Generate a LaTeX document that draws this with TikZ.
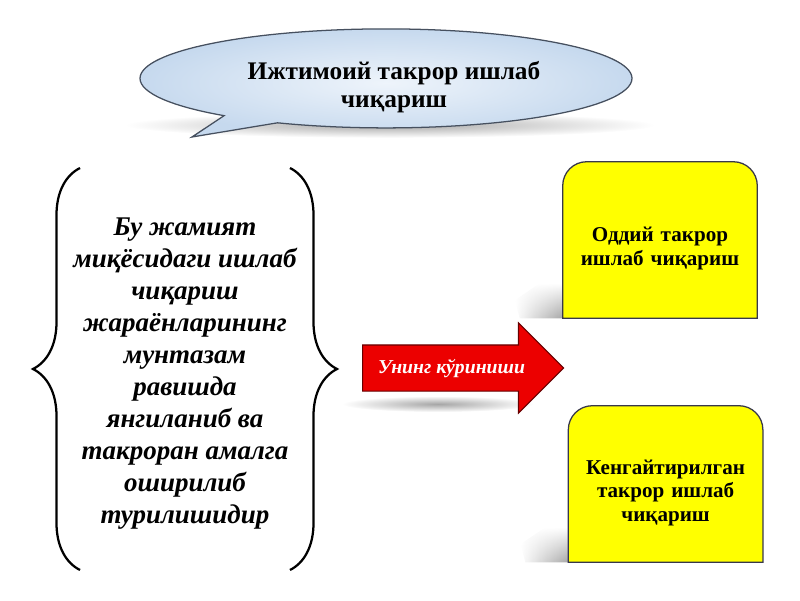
\documentclass[tikz,border=0pt]{standalone}
\usepackage{fontspec}
\setmainfont{Liberation Serif}
\usetikzlibrary{shapes,shapes.callouts,shapes.arrows,decorations.pathreplacing,backgrounds,positioning,calc,fadings}

\definecolor{bubblein}{RGB}{238,244,251}
\definecolor{bubbleout}{RGB}{198,217,238}
\definecolor{bubbleline}{RGB}{70,80,95}
\definecolor{boxyellow}{RGB}{255,255,0}
\definecolor{boxline}{RGB}{55,55,75}
\definecolor{arrowred}{RGB}{236,0,0}

\begin{document}
\begin{tikzpicture}[
    bubble/.style={ellipse callout, draw=bubbleline, line width=0.9pt, inner color=bubblein, outer color=bubbleout, minimum width=12.3cm, minimum height=2.475cm},
    title/.style={align=center, font=\fontsize{18}{20.5}\selectfont\bfseries},
    process/.style={inner sep=0pt, minimum width=5.25cm, minimum height=10.05cm, align=center, font=\fontsize{19.2}{22.8}\selectfont\bfseries\itshape},
    view/.style={single arrow, draw=red!40!black, line width=0.8pt, fill=arrowred, text=white, minimum height=5.025cm, single arrow head extend=0.55cm, text height=0.35cm, text depth=0.1cm, inner ysep=0.3375cm, font=\fontsize{14}{16}\selectfont\bfseries\itshape},
    outcome/.style={minimum width=4.85cm, minimum height=3.9cm, text width=4.6cm, align=center, font=\fontsize{15}{16.8}\selectfont\bfseries, execute at begin node={\rule{0pt}{0.8cm}}},
    outcomeframe/.style={draw=boxline, line width=0.9pt, fill=boxyellow},
    bracket/.style={decorate, decoration={brace, amplitude=1.175cm}, line width=1.6pt},
    softshadow/.style={inner color=gray!70, outer color=white},
    sideshadow/.style={left color=white, right color=gray!70, path fading=north}
]
    \useasboundingbox (0,0) rectangle (20,15);

    % Sarlavha
    \node[bubble, callout absolute pointer={(4.8,11.575)}] (bubble) at (9.65,13.04) {};
    \node[title] (title) at ($(bubble.center)+(0.2,-0.22)$) {Ижтимоий такрор ишлаб\\чиқариш};

    % Tavsif
    \node[process] (process) at (4.625,5.66) {Бу жамият\\миқёсидаги ишлаб\\чиқариш\\жараёнларининг\\мунтазам\\равишда\\янгиланиб ва\\такроран амалга\\оширилиб\\турилишидир};
    \coordinate (lbot) at ($(process.center)+(-2.625,-4.91)$);
    \coordinate (ltop) at ($(process.center)+(-2.625,5.14)$);
    \coordinate (rtop) at ($(process.center)+(2.625,5.14)$);
    \coordinate (rbot) at ($(process.center)+(2.625,-4.91)$);
    \draw[bracket] (lbot) -- (ltop);
    \draw[bracket] (rtop) -- (rbot);

    % Ko'rinishi
    \node[view, anchor=tail] (view) at (9.05,5.8) {Унинг кўриниши};

    % Turlari
    \node[outcome] (simple) at (16.5,9.0) {Оддий такрор\\ишлаб чиқариш};
    \node[outcome] (extended) at (16.64,2.9) {Кенгайтирилган\\такрор ишлаб\\чиқариш};

    \begin{scope}[on background layer]
        \shade[softshadow] (9.75,11.875) ellipse (6.625cm and 0.32cm);
        \shade[softshadow] ($(view.tail)+(1.9,-0.9)$) ellipse (2.4cm and 0.2cm);
        \foreach \b in {simple,extended} {
            \shade[sideshadow] ($(\b.south west)+(-1.2,0.45)$) -- ($(\b.south west)+(-0.575,0.875)$) -- ($(\b.south west)+(0,0.875)$) -- (\b.south west) -- ($(\b.south west)+(-1.075,0)$) -- cycle;
            \draw[outcomeframe] (\b.south west) [rounded corners=0.6cm] -- (\b.north west) -- (\b.north east) [sharp corners] -- (\b.south east) -- cycle;
        }
    \end{scope}

\end{tikzpicture}
\end{document}
